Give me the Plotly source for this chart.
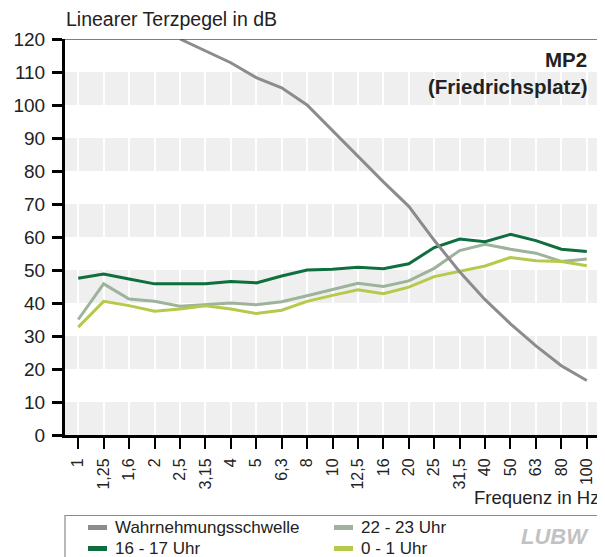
import plotly.graph_objects as go

# ---- data ----
freq_labels = ["1", "1,25", "1,6", "2", "2,5", "3,15", "4", "5", "6,3", "8", "10",
               "12,5", "16", "20", "25", "31,5", "40", "50", "63", "80", "100"]
threshold = [None, None, None, None, 120.0, 116.5, 112.8, 108.3, 105.2, 100.0, 92.2,
             84.4, 76.7, 69.3, 59.0, 49.5, 41.0, 33.7, 27.0, 21.0, 16.5]
uhr_16_17 = [47.5, 48.8, 47.3, 45.8, 45.8, 45.8, 46.5, 46.1, 48.2, 50.0, 50.2,
             50.8, 50.4, 51.9, 56.8, 59.4, 58.6, 60.8, 58.9, 56.3, 55.6]
uhr_22_23 = [35.0, 45.8, 41.2, 40.5, 39.0, 39.5, 40.0, 39.5, 40.4, 42.2, 44.0,
             46.0, 45.0, 46.7, 50.5, 55.9, 57.8, 56.3, 55.1, 52.6, 53.3]
uhr_0_1 = [32.7, 40.5, 39.2, 37.5, 38.2, 39.2, 38.2, 36.8, 37.8, 40.5, 42.3,
           44.0, 42.8, 44.8, 48.0, 49.7, 51.2, 53.8, 52.8, 52.6, 51.3]
y_ticks = list(range(0, 121, 10))

series_names = ["Wahrnehmungsschwelle", "22 - 23 Uhr", "16 - 17 Uhr", "0 - 1 Uhr"]
series_colors = ["#8c8c8c", "#9db39b", "#0e6e3e", "#b7c94a"]

FONT = "Liberation Sans"
idx = list(range(len(freq_labels)))

# page body has an 8px margin -> shift figure geometry (screen coords below)
OFF = 8
W, H = 605 - OFF, 557 - OFF
SL, SR, ST, SB = 65, 600, 39, 435
L, R, T, B = SL - OFF, SR - OFF, ST - OFF, SB - OFF


def px(x):
    return (x - SL) / (SR - SL)


def py(y):
    return (SB - y) / (SB - ST)


fig = go.Figure()
for name, vals, col in [(series_names[1], uhr_22_23, series_colors[1]),
                        (series_names[3], uhr_0_1, series_colors[3]),
                        (series_names[2], uhr_16_17, series_colors[2]),
                        (series_names[0], threshold, series_colors[0])]:
    fig.add_trace(go.Scatter(x=idx, y=vals, mode="lines", name=name,
                             line=dict(color=col, width=3), showlegend=False,
                             connectgaps=False))

shapes = []
# grey horizontal bands
for lo in range(0, 120, 20):
    shapes.append(dict(type="rect", xref="paper", yref="y", x0=0, x1=1, y0=lo, y1=lo + 10,
                       fillcolor="#efefef", line=dict(width=0), layer="below"))
# top and right border
shapes.append(dict(type="line", xref="paper", yref="y", x0=0, x1=1, y0=120, y1=120,
                   line=dict(color="#555555", width=1.5), layer="above"))
shapes.append(dict(type="line", xref="paper", yref="y", x0=1, x1=1, y0=0, y1=120,
                   line=dict(color="#555555", width=1.5), layer="above"))

# manual legend box
shapes.append(dict(type="rect", xref="paper", yref="paper", x0=px(65), x1=px(598),
                   y0=py(515.5), y1=py(575), line=dict(color="#8a8a8a", width=1.2),
                   fillcolor="white", layer="above"))
legend_pos = [(88, 113, 527.5), (334, 359, 527.5), (88, 113, 548.5), (334, 359, 548.5)]
annotations = []
for (sx, tx, ly), name, col in zip(legend_pos, series_names, series_colors):
    shapes.append(dict(type="line", xref="paper", yref="paper", x0=px(sx), x1=px(sx + 19),
                       y0=py(ly), y1=py(ly), line=dict(color=col, width=5), layer="above"))
    annotations.append(dict(xref="paper", yref="paper", x=px(tx), y=py(ly), text=name,
                            showarrow=False, xanchor="left", yanchor="middle",
                            font=dict(family=FONT, size=17, color="#222222")))

annotations += [
    dict(xref="paper", yref="paper", x=px(64), y=py(19), text="Linearer Terzpegel in dB",
         showarrow=False, xanchor="left", yanchor="middle",
         font=dict(family=FONT, size=19.5, color="#222222")),
    dict(xref="paper", yref="paper", x=px(601), y=py(497), text="Frequenz in Hz",
         showarrow=False, xanchor="right", yanchor="middle",
         font=dict(family=FONT, size=18.5, color="#222222")),
    dict(xref="paper", yref="paper", x=px(589), y=py(59), text="<b>MP2</b>",
         showarrow=False, xanchor="right", yanchor="middle",
         font=dict(family=FONT, size=20.5, color="#222222")),
    dict(xref="paper", yref="paper", x=px(589), y=py(86), text="<b>(Friedrichsplatz)</b>",
         showarrow=False, xanchor="right", yanchor="middle",
         font=dict(family=FONT, size=20.5, color="#222222")),
    dict(xref="paper", yref="paper", x=px(591), y=py(536), text="<b><i>LUBW</i></b>",
         showarrow=False, xanchor="right", yanchor="middle",
         font=dict(family=FONT, size=22, color="#c2c2c2")),
]

fig.update_layout(
    width=W, height=H,
    margin=dict(l=L, r=W - R, t=T, b=H - B, pad=0),
    paper_bgcolor="white", plot_bgcolor="white",
    shapes=shapes, annotations=annotations,
    showlegend=False,
    xaxis=dict(range=[-0.52, 20.52], tickmode="array", tickvals=idx, ticktext=freq_labels,
               tickangle=-90, ticks="outside", ticklen=11, tickwidth=2, tickcolor="black",
               showline=True, linecolor="black", linewidth=3,
               showgrid=True, gridcolor="white", gridwidth=2, zeroline=False,
               tickfont=dict(family=FONT, size=16, color="#222222"), ticklabelstandoff=3),
    yaxis=dict(range=[0, 120], tickmode="array", tickvals=y_ticks,
               ticks="outside", ticklen=10, tickwidth=2.5, tickcolor="black",
               showline=True, linecolor="black", linewidth=3,
               showgrid=False, zeroline=False,
               tickfont=dict(family=FONT, size=19, color="#222222"), ticklabelstandoff=3),
)

fig.write_html("out.html")
